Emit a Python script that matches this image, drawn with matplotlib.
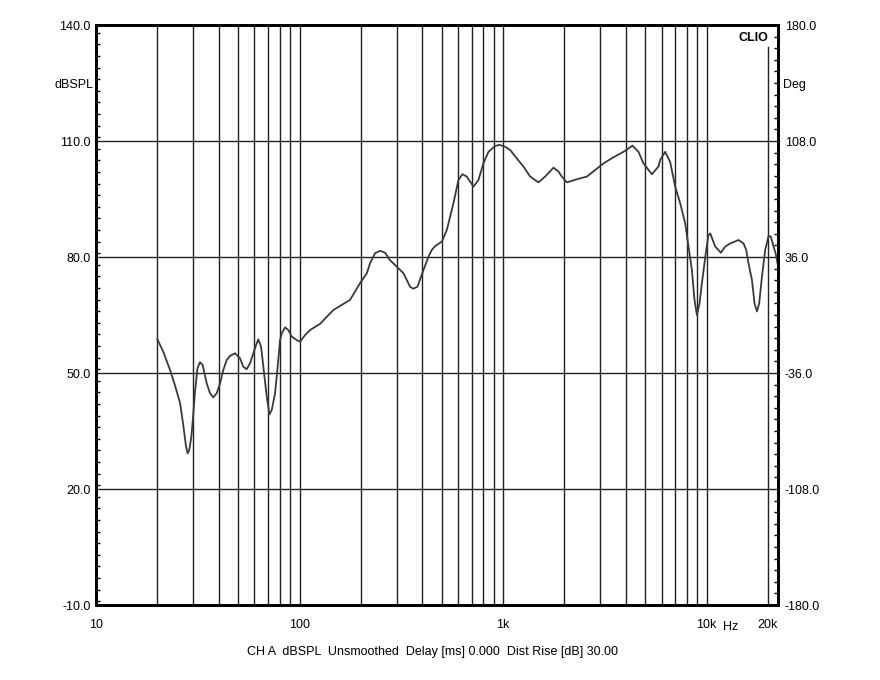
import matplotlib
matplotlib.use("Agg")
import matplotlib.pyplot as plt
from matplotlib.ticker import MultipleLocator, FixedLocator

plt.rcParams['font.family'] = ['Liberation Sans', 'DejaVu Sans']

# response curve (Hz, dBSPL)
freq = [20, 21.4, 23.1, 24.4, 25.9, 26.9, 27.7, 28.2, 28.7, 29.4, 29.9, 30.7,
        31.5, 32.4, 33.4, 35.0, 36.3, 37.7, 39.2, 40.7, 42.2, 43.9, 45.5, 48.2,
        51.0, 52.9, 55.0, 57.1, 59.3, 61.1, 62.7, 64.7, 66.4, 69.0, 71.1, 73.0,
        75.8, 77.8, 80.2, 81.8, 84.9, 88.1, 91.6, 96.9, 100.6, 106.4, 112.6,
        126, 146.6, 177, 198, 214, 222, 235, 249, 263, 278, 300, 324, 349, 362,
        379, 406, 430, 446, 463, 500, 529, 570, 603, 631, 663, 715, 756, 800,
        847, 913, 959, 1023, 1082, 1167, 1258, 1358, 1491, 1608, 1767, 1870,
        1942, 2056, 2302, 2578, 3111, 3485, 3902, 4320, 4623, 4891, 5380, 5795,
        5908, 6253, 6620, 7001, 7410, 7842, 8140, 8458, 8710, 8951, 9220, 9471,
        9943, 10210, 10404, 11010, 11744, 12330, 13050, 14330, 15170, 15640,
        16040, 16680, 17180, 17650, 18110, 18680, 19380, 20120, 20650, 21300,
        21790, 22280]
spl = [58.8, 55.5, 50.8, 46.9, 42.2, 36.1, 30.9, 29.2, 30.1, 33.5, 37.9, 45.6,
       51.2, 52.8, 52.1, 47.3, 44.8, 43.7, 44.8, 47.3, 50.8, 53.4, 54.4, 55.1,
       53.8, 51.6, 51.0, 52.5, 55.1, 57.2, 58.7, 56.8, 51.6, 43.9, 39.3, 40.4,
       44.8, 50.8, 58.5, 60.3, 61.8, 61.1, 59.4, 58.5, 58.1, 59.8, 61.1,
       62.7, 66.3, 68.9, 73.2, 75.8, 78.4, 81.0, 81.6, 81.1, 79.2, 77.5, 75.8, 72.3, 71.8,
       72.3, 76.6, 80.1, 81.8, 82.8, 84.0, 87.0, 93.9, 99.9, 101.4, 100.8, 98.2, 99.9, 104.2,
       107.2, 108.7, 109.0, 108.5, 107.7, 105.5, 103.4, 100.8, 99.3, 100.8, 103.1, 102.1,
       100.8, 99.3, 100.1, 100.8, 104.2, 105.8, 107.2, 108.8, 107.2, 104.2, 101.4, 103.4,
       105.1, 107.2, 104.5, 98.2, 93.9, 88.7, 82.7, 76.6, 68.9, 65.0, 68.0, 73.2,
       81.8, 85.7, 86.1, 82.7, 81.1, 82.7, 83.5, 84.4, 83.5, 81.8,
       78.4, 74.1, 68.0, 65.9, 68.0, 74.9, 81.8, 85.4, 85.3, 82.7,
       81.0, 78.4]

x_ticks = [10, 100, 1000, 10000, 20000]
x_labels = ['10', '100', '1k', '10k', '20k']
db_ticks = [-10, 20, 50, 80, 110, 140]
deg_ticks = [-180, -108, -36, 36, 108, 180]

fig = plt.figure(figsize=(8.8, 6.8), dpi=100)
ax = fig.add_axes([96/880, 75/680, 682/880, 580/680])
ax.set_xscale('log')
ax.set_xlim(10, 22400)
ax.set_ylim(-10, 140)

# grid
vlines = [f * m for m in (10, 100, 1000) for f in range(2, 10)] + [100, 1000, 10000]
for v in vlines:
    ax.axvline(v, color='#222222', lw=1.0, zorder=1)
ax.axvline(20000, ymax=0.962, color='#222222', lw=1.0, zorder=1)
for h in db_ticks[1:-1]:
    ax.axhline(h, color='#222222', lw=1.0, zorder=1)

ax.plot(freq, spl, color='#3a3a3a', lw=1.3, zorder=3, solid_joinstyle='round')

ax.xaxis.set_major_locator(FixedLocator(x_ticks))
ax.set_xticklabels(x_labels)
ax.xaxis.set_minor_locator(FixedLocator([]))
ax.tick_params(axis='x', which='both', length=0, pad=10, labelsize=9)

ax.set_yticks(db_ticks)
ax.set_yticklabels(['%.1f' % t for t in db_ticks])
ax.yaxis.set_minor_locator(MultipleLocator(3))
ax.tick_params(axis='y', which='major', length=0, pad=4, labelsize=9)
ax.tick_params(axis='y', which='minor', direction='in', length=3, width=1)

ax2 = ax.twinx()
ax2.set_ylim(-180, 180)
ax2.set_yticks(deg_ticks)
ax2.set_yticklabels(['%.1f' % t for t in deg_ticks])
ax2.yaxis.set_minor_locator(MultipleLocator(7.2))
ax2.tick_params(axis='y', which='major', length=0, pad=5, labelsize=9)
ax2.tick_params(axis='y', which='minor', direction='in', length=3, width=1)

for a in (ax, ax2):
    for s in a.spines.values():
        s.set_linewidth(2)
        s.set_color('black')

fig.text(93/880, 1 - 85/680, 'dBSPL', ha='right', va='center', fontsize=9)
fig.text(783/880, 1 - 85/680, 'Deg', ha='left', va='center', fontsize=9)
fig.text(768/880, 1 - 38/680, 'CLIO', ha='right', va='center', fontsize=9,
         fontweight='bold')
fig.text(731/880, 1 - 627/680, 'Hz', ha='center', va='center', fontsize=9)
fig.text(432/880, 1 - 652/680,
         'CH A  dBSPL  Unsmoothed  Delay [ms] 0.000  Dist Rise [dB] 30.00',
         ha='center', va='center', fontsize=9)

fig.savefig('out.png', dpi=100)
